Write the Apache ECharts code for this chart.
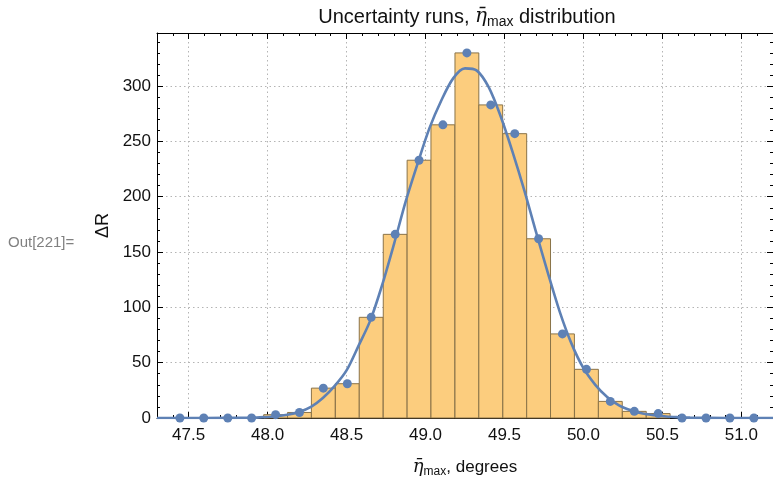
<!DOCTYPE html>
<html><head><meta charset="utf-8">
<script src="https://cdn.jsdelivr.net/npm/echarts@6/dist/echarts.min.js"></script>
<style>html,body{margin:0;padding:0;background:#fff}#c{width:773px;height:483px}</style>
</head><body><div id="c"></div>
<script>
// Histogram bin centers (degrees) and counts
const binCenters = [47.445, 47.596, 47.748, 47.899, 48.051, 48.202, 48.353, 48.505, 48.656,
  48.808, 48.959, 49.110, 49.262, 49.413, 49.565, 49.716, 49.867, 50.019, 50.170, 50.322,
  50.473, 50.624, 50.776, 50.927, 51.079];
const counts = [0, 0, 0, 0, 3, 5, 27, 31, 91, 166, 233, 265, 330, 283, 257, 162, 76, 44, 15, 6, 4, 0, 0, 0, 0];
// Fitted curve, points
const curveX = [47.30, 47.60, 47.90, 47.975, 48.05, 48.125, 48.20, 48.275, 48.35, 48.425, 48.50,
  48.575, 48.65, 48.725, 48.80, 48.875, 48.95, 49.025, 49.10, 49.175, 49.25, 49.325, 49.40, 49.475,
  49.55, 49.625, 49.70, 49.775, 49.85, 49.925, 50.00, 50.075, 50.15, 50.225, 50.30, 50.375, 50.45,
  50.525, 50.60, 50.675, 50.90, 51.20];
const curveY = [0, 0, 0.3, 0.8, 1.6, 3, 5.5, 10, 18, 29, 43, 65, 88, 120, 157, 196, 230, 262, 287,
  307, 316, 314, 299, 273, 241, 206, 168, 131, 96, 67, 45, 30, 19, 11.5, 7, 4, 2.5, 1.3, 0.7, 0.3, 0, 0];
const xRange = [47.3, 51.2];
const yRange = [0, 348];

const FONT = '"Liberation Sans", Arial, sans-serif';
const binW = binCenters[1] - binCenters[0];
const BLUE = '#5e81b5';

const chart = echarts.init(document.getElementById('c'), null, {renderer: 'canvas'});

const gridLine = {show: true, lineStyle: {color: '#b4b4b4', type: [1.5, 3], width: 1}};
const baseX = {
  type: 'value', min: xRange[0], max: xRange[1], splitNumber: 8,
  axisLine: {show: true, onZero: false, lineStyle: {color: '#000', width: 1}},
  axisTick: {show: true, inside: true, length: 6, lineStyle: {color: '#000'}},
  minorTick: {show: true, splitNumber: 5, length: 3, lineStyle: {color: '#000'}},
};
const baseY = {
  type: 'value', min: yRange[0], max: yRange[1], interval: 50,
  axisLine: {show: true, onZero: false, lineStyle: {color: '#000', width: 1}},
  axisTick: {show: true, inside: true, length: 6, lineStyle: {color: '#000'}},
  minorTick: {show: true, splitNumber: 5, length: 3, lineStyle: {color: '#000'}},
};

const option = {
  animation: false,
  backgroundColor: '#fff',
  grid: {left: 157, right: -2, top: 33, bottom: 65, containLabel: false},
  graphic: [
    {type: 'text', x: 467, y: 17, style: {
      text: '{t|Uncertainty runs, }{eta|η̄}{sub|max}{t| distribution}',
      align: 'center', verticalAlign: 'middle',
      rich: {
        t: {fontSize: 20, fontFamily: FONT, fill: '#111', lineHeight: 24},
        eta: {fontSize: 20, fontFamily: '"DejaVu Serif", serif', fontStyle: 'italic', fill: '#111', lineHeight: 24},
        sub: {fontSize: 14, fontFamily: FONT, fill: '#111', lineHeight: 13, verticalAlign: 'bottom'}
      },
      fontSize: 20, fontFamily: FONT, fill: '#111'
    }},
    {type: 'text', x: 8, y: 243, style: {
      text: 'Out[221]=', fontSize: 15, fontFamily: FONT, fill: '#808080', verticalAlign: 'middle'
    }}
  ],
  xAxis: [
    Object.assign({}, baseX, {
      position: 'bottom',
      name: '{eta|η̄}{sub|max}{t|, degrees}',
      nameLocation: 'middle', nameGap: 38,
      nameTextStyle: {
        fontSize: 17, fontFamily: FONT, color: '#111',
        rich: {
          t: {fontSize: 17, fontFamily: FONT, color: '#111', lineHeight: 22},
          eta: {fontSize: 18, fontFamily: '"DejaVu Serif", serif', fontStyle: 'italic', color: '#111', lineHeight: 22},
          sub: {fontSize: 12, fontFamily: FONT, color: '#111', lineHeight: 11, verticalAlign: 'bottom'}
        }
      },
      axisLabel: {show: true, margin: 9, fontSize: 17, fontFamily: FONT, color: '#111',
        showMinLabel: false, showMaxLabel: false,
        formatter: v => v.toFixed(1)},
      splitLine: gridLine
    }),
    Object.assign({}, baseX, {
      position: 'top', axisLabel: {show: false}, splitLine: {show: false}
    })
  ],
  yAxis: [
    Object.assign({}, baseY, {
      position: 'left',
      name: 'ΔR', nameLocation: 'middle', nameGap: 36, nameRotate: 90,
      nameTextStyle: {fontSize: 18, fontFamily: FONT, color: '#111'},
      axisLabel: {show: true, margin: 6, fontSize: 17, fontFamily: FONT, color: '#111',
        showMaxLabel: false},
      splitLine: gridLine
    }),
    Object.assign({}, baseY, {
      position: 'right', axisLabel: {show: false}, splitLine: {show: false}
    })
  ],
  series: [
    {
      type: 'custom', name: 'histogram', xAxisIndex: 0, yAxisIndex: 0, z: 2,
      data: binCenters.map((c, i) => [c, counts[i]]).filter(d => d[1] > 0),
      encode: {x: 0, y: 1},
      renderItem: function (params, api) {
        const c = api.value(0), v = api.value(1);
        const p0 = api.coord([c - binW / 2, v]);
        const p1 = api.coord([c + binW / 2, 0]);
        return {
          type: 'rect',
          shape: {x: p0[0], y: p0[1], width: p1[0] - p0[0], height: p1[1] - p0[1]},
          style: {fill: '#fccd7e', stroke: '#8a7348', lineWidth: 1}
        };
      }
    },
    {
      type: 'line', name: 'fit', xAxisIndex: 0, yAxisIndex: 0, z: 3,
      data: curveX.map((x, i) => [x, curveY[i]]),
      smooth: 0.3, showSymbol: false, symbol: 'none',
      lineStyle: {color: BLUE, width: 2.6}
    },
    {
      type: 'scatter', name: 'counts', xAxisIndex: 0, yAxisIndex: 0, z: 4,
      data: binCenters.map((c, i) => [c, counts[i]]),
      symbolSize: 9, itemStyle: {color: BLUE, opacity: 1}
    }
  ]
};
chart.setOption(option);
</script>
</body></html>
